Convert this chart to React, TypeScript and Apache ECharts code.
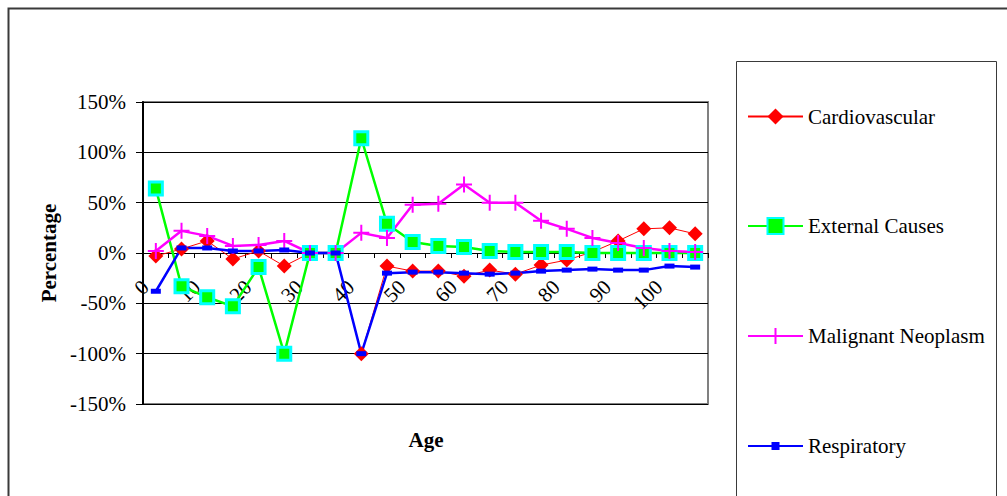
import React, { useEffect, useRef } from "react";
import * as echarts from "echarts";

const ages = ["0", "5", "10", "15", "20", "25", "30", "35", "40", "45", "50", "55", "60", "65", "70", "75", "80", "85", "90", "95", "100", "105"];
const cardiovascular = [-3, 4, 12, -6, 2, -13, 0, 0, -100, -13, -18, -18, -23, -17, -21, -12, -7, 1, 12, 24, 25, 19];
const externalCauses = [64, -33, -44, -53, -14, -100, 0, 0, 114, 29, 11, 7, 6, 2, 1, 1, 1, 0, 0, 0, 0, 0];
const malignantNeoplasm = [2, 22, 17, 7, 8, 12, 0, 0, 20, 15, 48, 49, 68, 50, 50, 32, 24, 15, 10, 5, 2, 1];
const respiratory = [-38, 5, 5, 2, 2, 3, 0, 0, -100, -20, -19, -19, -20, -21, -20, -18, -17, -16, -17, -17, -13, -14];
const yTicks = { min: -150, max: 150, step: 50 };

const FONT = "Liberation Serif";
const PLUS = "path://M8.75,0h2.5v8.75h8.75v2.5h-8.75v8.75h-2.5v-8.75h-8.75v-2.5h8.75z";

export default function App() {
  const ref = useRef<HTMLDivElement>(null);
  useEffect(() => {
    if (!ref.current) return;
    const chart = echarts.init(ref.current, null, { renderer: "svg" });
    const names = ["Cardiovascular", "External Causes", "Malignant Neoplasm", "Respiratory"];
    const centers = [116.5, 226, 336, 446];
    const iconHeights = [20, 20, 20, 10];
    const gridTop = 102;
    const gridBottomPx = 404;
    const zeroOffset = -(gridBottomPx - gridTop) * (0 - yTicks.min) / (yTicks.max - yTicks.min);
    chart.setOption({
      animation: false,
      backgroundColor: "#ffffff",
      textStyle: { fontFamily: FONT },
      grid: {
        left: 143,
        right: 299,
        top: gridTop,
        bottom: 496 - gridBottomPx,
        show: true,
        borderColor: "#808080",
        borderWidth: 2,
        containLabel: false,
      },
      legend: names.map((n, i) => ({
        data: [n],
        left: 747,
        top: centers[i] - 10.5,
        padding: 0,
        itemWidth: 55,
        itemHeight: iconHeights[i],
        itemGap: 5,
        textStyle: { fontSize: 21, fontFamily: FONT, color: "#000" },
      })),
      graphic: [
        {
          type: "rect",
          shape: { x: 8.5, y: 8.5, width: 1020, height: 520 },
          style: { fill: "none", stroke: "#3a3a3a", lineWidth: 2 },
          silent: true,
        },
        {
          type: "rect",
          shape: { x: 736.5, y: 61.5, width: 260, height: 460 },
          style: { fill: "none", stroke: "#3a3a3a", lineWidth: 1 },
          silent: true,
        },
        {
          type: "text",
          x: 426,
          y: 440,
          style: {
            text: "Age",
            font: `bold 21px ${FONT}`,
            fill: "#000",
            textAlign: "center",
            textVerticalAlign: "middle",
          },
        },
      ],
      xAxis: {
        type: "category",
        data: ages,
        boundaryGap: true,
        position: "bottom",
        offset: zeroOffset,
        axisLine: { onZero: false, lineStyle: { color: "#000", width: 1 } },
        axisTick: { show: true, interval: 0, length: 5, inside: false, lineStyle: { color: "#000" } },
        axisLabel: {
          interval: 1,
          rotate: 45,
          margin: 20,
          padding: [0, 15, 0, 0],
          fontSize: 21,
          fontFamily: FONT,
          color: "#000",
        },
        splitLine: { show: false },
      },
      yAxis: {
        type: "value",
        min: yTicks.min,
        max: yTicks.max,
        interval: yTicks.step,
        name: "Percentage",
        nameLocation: "middle",
        nameGap: 82,
        nameTextStyle: { fontSize: 21, fontWeight: "bold", fontFamily: FONT, color: "#000" },
        axisLine: { show: true, lineStyle: { color: "#000", width: 2 } },
        axisTick: { show: true, length: 7, lineStyle: { color: "#000" } },
        axisLabel: { formatter: "{value}%", margin: 17, fontSize: 21, fontFamily: FONT, color: "#000" },
        splitLine: { show: true, lineStyle: { color: "#000", width: 1 } },
      },
      series: [
        {
          name: "Cardiovascular",
          type: "line",
          data: cardiovascular,
          symbol: "diamond",
          symbolSize: 15,
          lineStyle: { color: "#ff0000", width: 1 },
          itemStyle: { color: "#ff0000" },
        },
        {
          name: "External Causes",
          type: "line",
          data: externalCauses,
          symbol: "rect",
          symbolSize: 13,
          lineStyle: { color: "#00ff00", width: 2.5 },
          itemStyle: { color: "#00ff00", borderColor: "#00ffff", borderWidth: 3 },
        },
        {
          name: "Malignant Neoplasm",
          type: "line",
          data: malignantNeoplasm,
          symbol: PLUS,
          symbolSize: 16,
          lineStyle: { color: "#ff00ff", width: 2.5 },
          itemStyle: { color: "#ff00ff" },
        },
        {
          name: "Respiratory",
          type: "line",
          data: respiratory,
          symbol: "rect",
          symbolSize: [10, 5],
          lineStyle: { color: "#0000ff", width: 2.5 },
          itemStyle: { color: "#0000ff" },
        },
      ],
    });
    return () => chart.dispose();
  }, []);
  return (
    <div
      ref={ref}
      style={{ position: "fixed", left: 0, top: 0, width: 1007, height: 496, background: "#fff" }}
    />
  );
}
